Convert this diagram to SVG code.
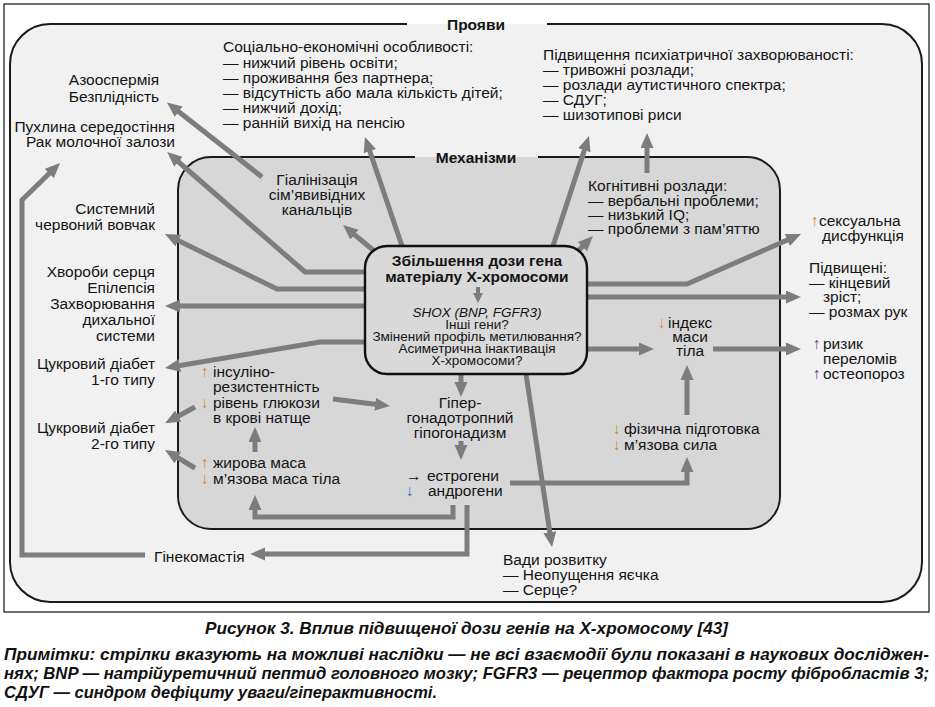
<svg xmlns="http://www.w3.org/2000/svg" width="935" height="707" viewBox="0 0 935 707">
<defs>
<style>
.t{font-family:"Liberation Sans",Arial,"DejaVu Sans",sans-serif;font-size:15.5px;fill:#141414}
.b{font-weight:bold}
.s{font-size:13.5px}
.i{font-style:italic}
.e{text-anchor:end}
.m{text-anchor:middle}
.cap{font-family:"Liberation Sans",Arial,sans-serif;font-size:16.5px;font-weight:bold;font-style:italic;fill:#111}
.o{fill:#cf8a35}
.bl{fill:#2f6bd1}
.pu{fill:#6a3a9c}
.c{stroke:#7d7d7d;stroke-width:5;fill:none;stroke-linejoin:miter;marker-end:url(#ah)}
.cs{stroke:#7d7d7d;stroke-width:4;fill:none;marker-end:url(#ahs)}
.pb{fill:none;stroke:#1a1a1a;stroke-width:2}
</style>
<marker id="ah" markerUnits="userSpaceOnUse" markerWidth="16" markerHeight="14" refX="6" refY="6.5" orient="auto"><path d="M0,0 L15,6.5 L0,13 z" fill="#7d7d7d"/></marker>
<marker id="ahs" markerUnits="userSpaceOnUse" markerWidth="11" markerHeight="11" refX="4" refY="5" orient="auto"><path d="M0,0 L10,5 L0,10 z" fill="#7d7d7d"/></marker>
</defs>
<rect x="0" y="0" width="935" height="707" fill="#fff"/>
<rect x="4" y="4" width="925" height="608" fill="#fff" stroke="#111" stroke-width="1.2"/>

<g id="panel-proiavy">
<rect x="10" y="24" width="912" height="578" rx="40" fill="#f1f1f1"/>
<path class="pb" d="M407,24 L50,24 A40,40 0 0 0 10,64 L10,562 A40,40 0 0 0 50,602 L882,602 A40,40 0 0 0 922,562 L922,64 A40,40 0 0 0 882,24 L547,24"/>
<text class="t b m" x="476" y="30">Прояви</text>
</g>
<g id="panel-mekhanizmy">
<rect x="178" y="157" width="602" height="372" rx="33" fill="#d7d7d7"/>
<path class="pb" d="M415,157 L211,157 A33,33 0 0 0 178,190 L178,496 A33,33 0 0 0 211,529 L747,529 A33,33 0 0 0 780,496 L780,190 A33,33 0 0 0 747,157 L538,157"/>
<text class="t b m" x="476" y="162.5">Механізми</text>
</g>

<g id="connectors">
<path class="c" d="M262,177 L174,108"/>
<path class="c" d="M365,272 L305,272 L174,158"/>
<path class="c" d="M365,289 L277,289 L173,238"/>
<path class="c" d="M365,306 L174,306"/>
<path class="c" d="M365,342 L320,342 L174,366.5"/>
<path class="c" d="M145,555 L22,555 L22,200 L53.6,169.3"/>
<path class="c" d="M467,505 L467,554 L259,554"/>
<path class="c" d="M453,505 L453,517 L255,517 L255,504"/>
<path class="c" d="M255,452 L255,436"/>
<path class="c" d="M195,407 L173,419"/>
<path class="c" d="M195,468 L172.7,454.6"/>
<path class="c" d="M333,399 L381,405"/>
<path class="c" d="M461,374 L461,388"/>
<path class="c" d="M461,441 L461,451"/>
<path class="c" d="M510,483 L687,483 L687,466"/>
<path class="c" d="M687,415 L687,374"/>
<path class="c" d="M587,349 L645,349"/>
<path class="c" d="M713,349 L792,349"/>
<path class="c" d="M587,297 L792,297"/>
<path class="c" d="M587,284 L687,284 L792.8,237.6"/>
<path class="c" d="M526,374 L550.7,538.1"/>
<path class="c" d="M578,251 L586.6,242.4"/>
<path class="c" d="M553,246 L586.2,144.6"/>
<path class="c" d="M647,173 L647,142"/>
<path class="c" d="M402,246 L367.9,145.5"/>
<path class="c" d="M373,250 L349.9,230.8"/>
</g>

<g id="central">
<rect x="365" y="246" width="222" height="128" rx="22" fill="#d9d9d9" stroke="#111" stroke-width="2.4"/>
<text class="t b m" x="477" y="266">Збільшення дози гена</text>
<text class="t b m" x="477" y="282">матеріалу Х-хромосоми</text>
<path class="cs" d="M478,287 L478,297"/>
<text class="t s i m" x="477" y="316.5">SHOX (BNP, FGFR3)</text>
<text class="t s m" x="477" y="328.5">Інші гени?</text>
<text class="t s m" x="477" y="340.5">Змінений профіль метилювання?</text>
<text class="t s m" x="477" y="352.5">Асиметрична інактивація</text>
<text class="t s m" x="477" y="364.5">Х-хромосоми?</text>
</g>

<g id="azoospermia"><text class="t m" x="114" y="85">Азооспермія</text><text class="t m" x="114" y="102">Безплідність</text></g>
<g id="pukhlyna"><text class="t e" x="175" y="132">Пухлина середостіння</text><text class="t e" x="175" y="147">Рак молочної залози</text></g>
<g id="vovchak"><text class="t e" x="155" y="214">Системний</text><text class="t e" x="155" y="230">червоний вовчак</text></g>
<g id="khvoroby"><text class="t e" x="155" y="277">Хвороби серця</text><text class="t e" x="155" y="293">Епілепсія</text><text class="t e" x="155" y="309">Захворювання</text><text class="t e" x="155" y="325">дихальної</text><text class="t e" x="155" y="341">системи</text></g>
<g id="diabet1"><text class="t e" x="155" y="369">Цукровий діабет</text><text class="t e" x="155" y="385">1-го типу</text></g>
<g id="diabet2"><text class="t e" x="155" y="433">Цукровий діабет</text><text class="t e" x="155" y="449">2-го типу</text></g>
<g id="ginekomastia"><text class="t" x="154" y="562">Гінекомастія</text></g>

<g id="sotsialno">
<text class="t" x="223" y="52">Соціально-економічні особливості:</text>
<text class="t" x="223" y="67.5">— нижчий рівень освіти;</text>
<text class="t" x="223" y="83">— проживання без партнера;</text>
<text class="t" x="223" y="98">— відсутність або мала кількість дітей;</text>
<text class="t" x="223" y="113">— нижчий дохід;</text>
<text class="t" x="223" y="128">— ранній вихід на пенсію</text>
</g>
<g id="psykhiatr">
<text class="t" x="543" y="60">Підвищення психіатричної захворюваності:</text>
<text class="t" x="543" y="75">— тривожні розлади;</text>
<text class="t" x="543" y="90">— розлади аутистичного спектра;</text>
<text class="t" x="543" y="105">— СДУГ;</text>
<text class="t" x="543" y="120">— шизотипові риси</text>
</g>
<g id="gialinizatsia"><text class="t m" x="317" y="185">Гіалінізація</text><text class="t m" x="317" y="200">сім’явивідних</text><text class="t m" x="317" y="215">канальців</text></g>
<g id="kognityvni">
<text class="t" x="588" y="191">Когнітивні розлади:</text>
<text class="t" x="588" y="206">— вербальні проблеми;</text>
<text class="t" x="588" y="220">— низький IQ;</text>
<text class="t" x="588" y="234">— проблеми з пам’яттю</text>
</g>
<g id="seksualna"><text class="t" x="811" y="226"><tspan class="o">↑</tspan><tspan x="819">сексуальна</tspan></text><text class="t" x="822" y="241">дисфункція</text></g>
<g id="pidvyshcheni">
<text class="t" x="809" y="273">Підвищені:</text>
<text class="t" x="809" y="287.5">— кінцевий</text>
<text class="t" x="823" y="302">зріст;</text>
<text class="t" x="809" y="316.5">— розмах рук</text>
</g>
<g id="ryzyk"><text class="t" x="813" y="349"><tspan class="pu">↑</tspan><tspan x="823">ризик</tspan></text><text class="t" x="823" y="364">переломів</text><text class="t" x="813" y="379"><tspan class="pu">↑</tspan><tspan x="823">остеопороз</tspan></text></g>
<g id="indeks"><text class="t" x="658" y="328"><tspan class="o">↓</tspan><tspan x="668">індекс</tspan></text><text class="t m" x="690" y="342">маси</text><text class="t m" x="690" y="356">тіла</text></g>
<g id="fizychna"><text class="t" x="613" y="434"><tspan class="o">↓</tspan><tspan x="624">фізична підготовка</tspan></text><text class="t" x="613" y="450"><tspan class="o">↓</tspan><tspan x="624">м’язова сила</tspan></text></g>
<g id="vady"><text class="t" x="503" y="565">Вади розвитку</text><text class="t" x="503" y="580">— Неопущення яєчка</text><text class="t" x="503" y="595">— Серце?</text></g>
<g id="insulin">
<text class="t" x="201" y="377"><tspan class="o">↑</tspan><tspan x="213">інсуліно-</tspan></text>
<text class="t" x="213" y="392">резистентність</text>
<text class="t" x="201" y="408"><tspan class="o">↓</tspan><tspan x="213">рівень глюкози</tspan></text>
<text class="t" x="213" y="423">в крові натще</text>
</g>
<g id="zhyrova">
<text class="t" x="201" y="468"><tspan class="o">↑</tspan><tspan x="213">жирова маса</tspan></text>
<text class="t" x="201" y="484"><tspan class="o">↓</tspan><tspan x="213">м’язова маса тіла</tspan></text>
</g>
<g id="giper"><text class="t m" x="460" y="408">Гіпер-</text><text class="t m" x="460" y="423">гонадотропний</text><text class="t m" x="460" y="438">гіпогонадизм</text></g>
<g id="estrogeny">
<text class="t" x="406" y="481">→<tspan x="427">естрогени</tspan></text>
<text class="t" x="406" y="496"><tspan class="bl">↓</tspan><tspan x="428">андрогени</tspan></text>
</g>

<g id="caption">
<text class="cap" x="205" y="634" textLength="523" lengthAdjust="spacingAndGlyphs">Рисунок 3. Вплив підвищеної дози генів на Х-хромосому [43]</text>
<text class="cap" x="4" y="660" textLength="925" lengthAdjust="spacingAndGlyphs">Примітки: стрілки вказують на можливі наслідки — не всі взаємодії були показані в наукових досліджен-</text>
<text class="cap" x="4" y="679" textLength="925" lengthAdjust="spacingAndGlyphs">нях; BNP — натрійуретичний пептид головного мозку; FGFR3 — рецептор фактора росту фібробластів 3;</text>
<text class="cap" x="4" y="698" textLength="433" lengthAdjust="spacingAndGlyphs">СДУГ — синдром дефіциту уваги/гіперактивності.</text>
</g>
</svg>
